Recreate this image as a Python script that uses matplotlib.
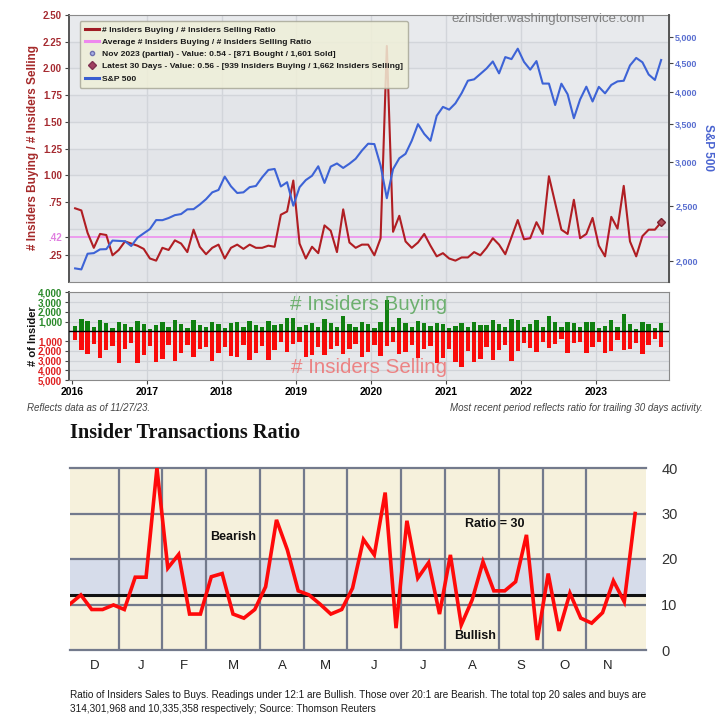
import numpy as np
import matplotlib
matplotlib.use('Agg')
import matplotlib.pyplot as plt
from matplotlib.lines import Line2D
from matplotlib.ticker import NullLocator, FixedLocator
from matplotlib import font_manager

plt.rcParams['font.family'] = ['Liberation Sans', 'DejaVu Sans']
installed = {f.name for f in font_manager.fontManager.ttflist}
narrow = 'Liberation Sans Narrow' if 'Liberation Sans Narrow' in installed else 'Liberation Sans'

# monthly # insiders buying / # insiders selling, Jan 2016 .. Nov 2023
ratio = [0.69, 0.67, 0.46, 0.32, 0.45, 0.44, 0.25, 0.30, 0.38, 0.36, 0.34, 0.31,
         0.22, 0.20, 0.32, 0.30, 0.39, 0.36, 0.28, 0.49, 0.33, 0.26, 0.32, 0.35,
         0.22, 0.32, 0.35, 0.31, 0.35, 0.32, 0.32, 0.34, 0.33, 0.63, 0.66, 0.95,
         0.36, 0.22, 0.33, 0.27, 0.53, 0.48, 0.28, 0.68, 0.37, 0.32, 0.35, 0.35,
         0.25, 0.41, 2.21, 0.47, 0.62, 0.38, 0.32, 0.37, 0.45, 0.34, 0.24, 0.27,
         0.22, 0.20, 0.23, 0.23, 0.28, 0.25, 0.32, 0.41, 0.35, 0.26, 0.42, 0.58,
         0.40, 0.41, 0.56, 0.45, 0.99, 0.74, 0.49, 0.45, 0.77, 0.41, 0.45, 0.60,
         0.34, 0.24, 0.61, 0.50, 0.90, 0.38, 0.24, 0.43, 0.49, 0.49, 0.56]
avg_ratio = 0.42

sp500 = [1940, 1932, 2060, 2065, 2097, 2099, 2174, 2171, 2168, 2126, 2199, 2239,
         2279, 2364, 2363, 2384, 2412, 2423, 2470, 2472, 2519, 2575, 2648, 2674,
         2824, 2714, 2641, 2648, 2705, 2718, 2816, 2902, 2914, 2712, 2760, 2507,
         2704, 2784, 2834, 2946, 2752, 2942, 2980, 2926, 2977, 3038, 3141, 3231,
         3226, 2954, 2585, 2912, 3044, 3100, 3271, 3500, 3363, 3270, 3622, 3756,
         3714, 3811, 3973, 4181, 4204, 4298, 4395, 4523, 4308, 4605, 4567, 4766,
         4516, 4374, 4530, 4132, 4132, 3785, 4130, 3955, 3586, 3872, 4080, 3840,
         4077, 3970, 4109, 4169, 4180, 4450, 4589, 4508, 4288, 4194, 4550]

buys = [580, 1260, 1090, 440, 1220, 850, 340, 950, 710, 440, 1090, 710,
        270, 650, 920, 410, 1160, 780, 370, 1220, 610, 410, 990, 780,
        310, 820, 920, 440, 1020, 680, 480, 1020, 610, 710, 1390, 1330,
        440, 610, 820, 440, 1290, 880, 440, 1560, 710, 410, 950, 710,
        310, 990, 3200, 480, 1390, 820, 480, 1050, 850, 540, 820, 710,
        340, 580, 820, 440, 920, 680, 610, 1160, 780, 410, 1260, 1160,
        440, 710, 1160, 440, 1630, 950, 440, 990, 880, 410, 990, 920,
        370, 540, 1220, 440, 1770, 710, 270, 950, 710, 370, 871]
sells = [880, 1900, 2310, 1330, 2750, 1940, 1460, 3230, 1800, 1190, 3270, 2410,
         1500, 3200, 2860, 1390, 3030, 2180, 1390, 2590, 1840, 1630, 3030, 2180,
         1600, 2520, 2590, 1390, 2990, 2180, 1500, 2930, 1870, 1120, 2110, 1330,
         1120, 2650, 2450, 1560, 2450, 1800, 1460, 2280, 1840, 1280, 2650, 2070,
         1390, 2520, 1460, 1050, 2310, 2140, 1390, 2690, 1840, 1500, 3270, 2690,
         1800, 3100, 3670, 2000, 3200, 2790, 1630, 2930, 1900, 1390, 3030, 2000,
         1160, 1730, 2110, 1090, 1670, 1290, 820, 2240, 1160, 1050, 2240, 1630,
         1120, 2180, 2000, 880, 1900, 1840, 1160, 2310, 1390, 820, 1601]
years = list(range(2016, 2024))

# weekly ratio of insider sales to buys (lower chart)
weekly_ratio = [10.1, 12.1, 8.9, 8.9, 9.9, 8.9, 16, 16, 40, 18,
                21, 7.9, 7.9, 16.1, 16.8, 7.9, 7.0, 8.9, 13.9, 28.6,
                22, 13, 12.1, 10.1, 7.9, 8.9, 13.6,
                24.3, 20.9, 34.6, 4.8, 28.4, 15.8, 19.2, 7.9, 20.9, 5.5,
                11, 19.4, 13, 13, 15, 25.3, 2.2, 16.8, 4.2, 12.5,
                7.0, 5.9, 8.2, 15.2, 10.6, 30]
month_letters = ['D', 'J', 'F', 'M', 'A', 'M', 'J', 'J', 'A', 'S', 'O', 'N']
weeks_in_month = [4.5, 4, 4, 5, 4, 4, 5, 4, 5, 4, 4, 4]

W, H = 720, 718
fig = plt.figure(figsize=(7.2, 7.18), dpi=100)


def px_axes(x0, y0, x1, y1):
    return fig.add_axes([x0 / W, 1 - y1 / H, (x1 - x0) / W, (y1 - y0) / H])


def px_text(x, y, s, **kw):
    return fig.text(x / W, 1 - y / H, s, **kw)


x_month = 2016 + (np.arange(len(ratio)) + 0.5) / 12

# ---------------- top: ratio + S&P 500
ax1 = px_axes(69, 15, 669, 282)
ax1.set_xlim(2015.96, 2023.98)
ax1.set_ylim(0, 2.5)
ax1.set_facecolor('#e8eaed')
for k in range(0, 10, 2):
    ax1.axhspan(k * 0.25, (k + 1) * 0.25, color='#e3e5e9', lw=0, zorder=0)
for yy in np.arange(0.25, 2.5, 0.25):
    ax1.axhline(yy, color='#d2d5da', lw=1.0, zorder=0.5)
for yr in years[1:]:
    ax1.axvline(yr, color='#d2d5da', lw=1.0, zorder=0.5)
ax1.axhline(avg_ratio, color='#ee88ee', lw=1.1, zorder=2)
ax1.plot(x_month, ratio, color='#b01e23', lw=1.5, zorder=3)
ax1.plot(x_month[-1], ratio[-1], marker='D', ms=4.5, color='#b04a55', mec='#7a2030', zorder=4)

ax1.set_xticks([])
ticks_l = [0.25, avg_ratio, 0.75, 1.0, 1.25, 1.5, 1.75, 2.0, 2.25, 2.5]
ax1.set_yticks(ticks_l)
ax1.set_yticklabels(['.25', '.42', '.75', '1.00', '1.25', '1.50', '1.75', '2.00', '2.25', '2.50'],
                    fontsize=7, fontweight='bold', color='#a52a30')
ax1.get_yticklabels()[1].set_color('#e080e0')
ax1.tick_params(axis='y', length=3, width=0.8, color='#444', pad=2)
for s in ax1.spines.values():
    s.set_color('#8a8a8a')
ax1.spines['left'].set_color('#555')
ax1.spines['left'].set_linewidth(1.4)

ax2 = ax1.twinx()
ax2.set_yscale('log')
ax2.plot(x_month, sp500, color='#3d63d6', lw=1.5, zorder=3)
ax2.set_ylim(1835, 5470)
ax2.yaxis.set_minor_locator(NullLocator())
ax2.yaxis.set_major_locator(FixedLocator([2000, 2500, 3000, 3500, 4000, 4500, 5000]))
ax2.set_yticklabels(['2,000', '2,500', '3,000', '3,500', '4,000', '4,500', '5,000'],
                    fontsize=6.5, fontweight='bold', color='#5a6fd0')
ax2.tick_params(axis='y', length=3, width=0.8, color='#444', pad=1.5)
ax2.spines['right'].set_color('#555')
ax2.spines['right'].set_linewidth(1.4)
for name in ['left', 'top', 'bottom']:
    ax2.spines[name].set_visible(False)

handles = [Line2D([], [], color='#a01c24', lw=2.2),
           Line2D([], [], color='#ee88ee', lw=2.2),
           Line2D([], [], ls='none', marker='o', ms=3, mfc='#a8b0e6', mec='#7070b0'),
           Line2D([], [], ls='none', marker='D', ms=4, mfc='#a04060', mec='#803050'),
           Line2D([], [], color='#3a5fd0', lw=2.2)]
labels = ['# Insiders Buying / # Insiders Selling Ratio',
          'Average # Insiders Buying / # Insiders Selling Ratio',
          'Nov 2023 (partial) - Value: 0.54 - [871 Bought / 1,601 Sold]',
          'Latest 30 Days - Value: 0.56 - [939 Insiders Buying / 1,662 Insiders Selling]',
          'S&P 500']
leg = ax2.legend(handles, labels, loc='upper left', bbox_to_anchor=(0.018, 0.978),
                 borderaxespad=0, fontsize=6.1, handlelength=1.7, handletextpad=0.3,
                 labelspacing=0.5, borderpad=0.6, fancybox=True, framealpha=0.85,
                 facecolor='#efefd8', edgecolor='#a8a898')
for t in leg.get_texts():
    t.set_color('#1a1a1a')
    t.set_fontweight('bold')

ax1.text(0.798, 0.985, 'ezinsider.washingtonservice.com', transform=ax1.transAxes,
         ha='center', va='center', fontsize=9.5, color='#808080', zorder=10)

px_text(33, 148, '# Insiders Buying / # Insiders Selling', rotation=90, ha='center',
        va='center', fontsize=8.5, fontweight='bold', color='#a52a2a')
px_text(708, 147, 'S&P 500', rotation=270, ha='center', va='center',
        fontsize=8.5, fontweight='bold', color='#4a64d0')

# ---------------- middle: number of insiders
ax3 = px_axes(69, 292, 669, 380)
ax3.set_xlim(2015.96, 2023.98)
ax3.set_ylim(-5000, 4050)
ax3.set_facecolor('#e6e8eb')
for yy in range(-4000, 4001, 1000):
    ax3.axhline(yy, color='#d0d3d8', lw=0.9, zorder=0)
for yr in years[1:]:
    ax3.axvline(yr, color='#d0d3d8', lw=0.9, zorder=0)
ax3.bar(x_month, buys, width=0.7 / 12, color='#108010', zorder=2)
ax3.bar(x_month, -np.array(sells), width=0.7 / 12, color='#fa0a0a', zorder=2)
ax3.axhline(0, color='black', lw=1.0, zorder=3)
ax3.set_yticks([4000, 3000, 2000, 1000, -1000, -2000, -3000, -4000, -5000])
ax3.set_yticklabels(['4,000', '3,000', '2,000', '1,000', '1,000', '2,000', '3,000', '4,000', '5,000'],
                    fontsize=7, fontweight='bold')
for t in ax3.get_yticklabels()[:4]:
    t.set_color('#2a8a2a')
for t in ax3.get_yticklabels()[4:]:
    t.set_color('#e02020')
ax3.set_xticks(years)
ax3.set_xticklabels([str(y) for y in years], fontsize=7.5, fontweight='bold')
ax3.tick_params(length=3, width=0.8, color='#444', pad=2)
for s in ax3.spines.values():
    s.set_color('#8a8a8a')
ax3.spines['left'].set_color('#555')
ax3.spines['left'].set_linewidth(1.4)
ax3.text(0.5, 0.86, '# Insiders Buying', transform=ax3.transAxes, ha='center', va='center',
         fontsize=14.8, color='#3c9a3c', alpha=0.7, zorder=4)
ax3.text(0.5, 0.14, '# Insiders Selling', transform=ax3.transAxes, ha='center', va='center',
         fontsize=14.8, color='#ee6a6a', alpha=0.8, zorder=4)
px_text(33, 336, '# of Insider', rotation=90, ha='center', va='center',
        fontsize=8, fontweight='bold', color='#111')

px_text(27, 408, 'Reflects data as of 11/27/23.', ha='left', va='center',
        fontsize=7, style='italic', color='#444')
px_text(703, 408, 'Most recent period reflects ratio for trailing 30 days activity.',
        ha='right', va='center', fontsize=7, style='italic', color='#444')

# ---------------- bottom: insider transactions ratio
px_text(70, 433, 'Insider Transactions Ratio', ha='left', va='center',
        fontsize=14.6, fontweight='bold', family=['Liberation Serif', 'DejaVu Serif'], color='#111')

ax4 = px_axes(70, 468, 646, 650)
weeks = np.arange(len(weekly_ratio))
ax4.set_xlim(0, 53)
ax4.set_ylim(0, 40)
ax4.set_facecolor('#f6f1dc')
ax4.axhspan(12, 20, color='#d6dcea', lw=0, zorder=0)
grid_c = '#737a8c'
for yy in [10, 20, 30]:
    ax4.axhline(yy, color=grid_c, lw=1.6, zorder=1)
edges = np.cumsum(weeks_in_month)
for e in edges[:-1]:
    ax4.axvline(e, color=grid_c, lw=1.6, zorder=1)
ax4.axhline(12, color='#111', lw=2.2, zorder=2)
ax4.plot(weeks, weekly_ratio, color='#ff0a0a', lw=2.6, solid_joinstyle='miter', zorder=3)
for s in ax4.spines.values():
    s.set_color(grid_c)
    s.set_linewidth(1.6)
ax4.spines['left'].set_visible(False)
ax4.spines['right'].set_visible(False)

starts = np.concatenate([[0], edges[:-1]])
ax4.set_xticks((starts + edges) / 2)
ax4.set_xticklabels(month_letters, fontsize=9.5, color='#222')
ax4.yaxis.tick_right()
ax4.set_yticks([0, 10, 20, 30, 40])
ax4.set_yticklabels(['0', '10', '20', '30', '40'], fontsize=10.5, color='#333')
ax4.tick_params(axis='y', length=0, pad=11)
ax4.tick_params(axis='x', length=0, pad=7)

ax4.text(15.0, 24.8, 'Bearish', ha='center', va='center', fontsize=9, fontweight='bold', color='#111')
ax4.text(39.1, 27.7, 'Ratio = 30', ha='center', va='center', fontsize=9, fontweight='bold', color='#111')
ax4.text(37.3, 3.1, 'Bullish', ha='center', va='center', fontsize=9, fontweight='bold', color='#111')

px_text(70, 695, 'Ratio of Insiders Sales to Buys. Readings under 12:1 are Bullish. Those over 20:1 are Bearish. '
        'The total top 20 sales and buys are', ha='left', va='center', fontsize=7.2, family=narrow, color='#1a1a1a')
px_text(70, 709, '314,301,968 and 10,335,358 respectively; Source: Thomson Reuters',
        ha='left', va='center', fontsize=7.2, family=narrow, color='#1a1a1a')

fig.savefig('out.png', dpi=100)
